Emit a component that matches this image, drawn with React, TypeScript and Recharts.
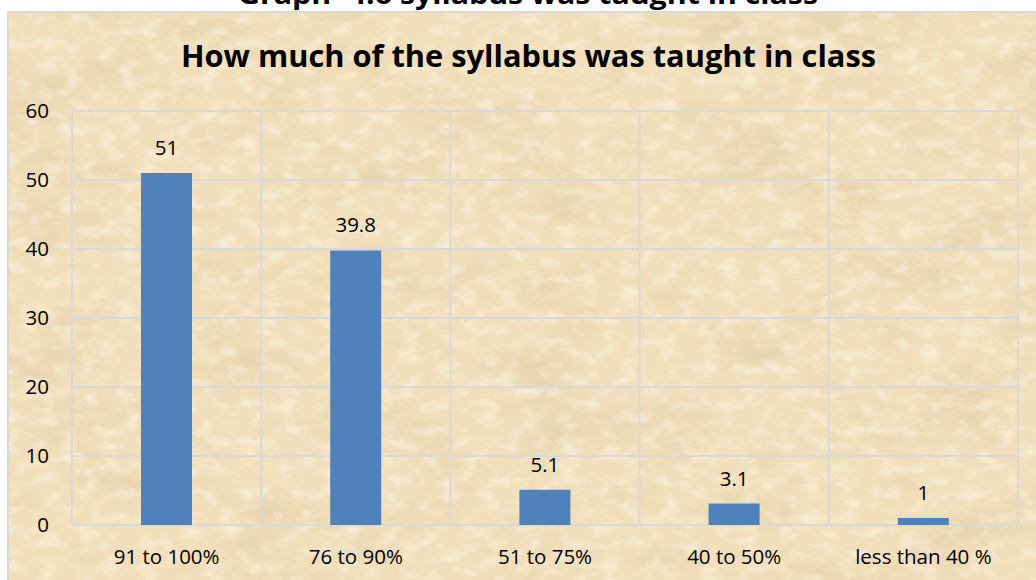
import React from 'react';
import { BarChart, Bar, XAxis, YAxis, CartesianGrid, LabelList } from 'recharts';

const categories = ['91 to 100%', '76 to 90%', '51 to 75%', '40 to 50%', 'less than 40 %'];
const values = [51, 39.8, 5.1, 3.1, 1];
const yTicks = [0, 10, 20, 30, 40, 50, 60];
const chartTitle = 'How much of the syllabus was taught in class';
const pageCaption = 'Graph- 4.6 syllabus was taught in class';

const data = categories.map((c, i) => ({ category: c, value: values[i] }));

const FONT = '"Open Sans", "DejaVu Sans", sans-serif';
const CHART_LEFT = 10;
const CHART_TOP = 13;
const CHART_W = 1030;
const CHART_H = 570;

export default function App() {
  const n = categories.length;
  return (
    <div style={{ position: 'fixed', left: 0, top: 0, width: 1036, height: 580, overflow: 'hidden', background: '#ffffff' }}>
      <svg style={{ position: 'absolute', left: 0, top: 0 }} width={1036} height={580}>
        <defs>
          <filter id="paper" x="0" y="0" width="100%" height="100%">
            <feTurbulence type="fractalNoise" baseFrequency="0.010 0.02" numOctaves="5" seed="7" result="n" />
            <feColorMatrix in="n" type="matrix" values="0 0 0 0 0.78  0 0 0 0 0.62  0 0 0 0 0.40  2.6 0 0 0 -1.25" />
          </filter>
          <filter id="paper2" x="0" y="0" width="100%" height="100%">
            <feTurbulence type="fractalNoise" baseFrequency="0.05 0.08" numOctaves="3" seed="2" result="n" />
            <feColorMatrix in="n" type="matrix" values="0 0 0 0 0.98  0 0 0 0 0.93  0 0 0 0 0.80  0 2.4 0 0 -1.1" />
          </filter>
        </defs>
        <text x={528} y={4} textAnchor="middle" fontFamily={FONT} fontWeight="bold" fontSize={26} textLength={580} lengthAdjust="spacingAndGlyphs" fill="#000">
          {pageCaption}
        </text>
        <rect x={7} y={11} width={1040} height={580} fill="#d9d9d9" />
        <rect x={9} y={13} width={1040} height={580} fill="#F0DFBA" />
        <rect x={9} y={13} width={1040} height={580} fill="#000" filter="url(#paper)" opacity={0.75} />
        <rect x={9} y={13} width={1040} height={580} fill="#000" filter="url(#paper2)" opacity={0.6} />
        <text x={528.5} y={67} textAnchor="middle" fontFamily={FONT} fontWeight="bold" fontSize={30} textLength={695} lengthAdjust="spacingAndGlyphs" fill="#000">
          {chartTitle}
        </text>
      </svg>
      <div style={{ position: 'absolute', left: CHART_LEFT, top: CHART_TOP }}>
        <BarChart
          width={CHART_W}
          height={CHART_H}
          data={data}
          margin={{ top: 98, right: 22, left: 12, bottom: 18 }}
          barSize={51}
        >
          <CartesianGrid
            stroke="#D9D9D9"
            strokeWidth={2}
            verticalCoordinatesGenerator={({ offset }: any) =>
              Array.from({ length: n + 1 }, (_, i) => offset.left + (i * offset.width) / n)
            }
          />
          <XAxis
            dataKey="category"
            interval={0}
            axisLine={false}
            tickLine={false}
            tickSize={0}
            tickMargin={24}
            height={40}
            tick={{ fill: '#000', fontSize: 20.5, fontFamily: FONT }}
          />
          <YAxis
            domain={[0, 60]}
            ticks={yTicks}
            width={50}
            axisLine={false}
            tickLine={false}
            tickSize={0}
            tickMargin={23}
            tick={{ fill: '#000', fontSize: 20.5, fontFamily: FONT }}
          />
          <Bar dataKey="value" fill="#4F81BD" isAnimationActive={false}>
            <LabelList dataKey="value" position="top" offset={18} fill="#000" fontSize={20.5} fontFamily={FONT} />
          </Bar>
        </BarChart>
      </div>
    </div>
  );
}
